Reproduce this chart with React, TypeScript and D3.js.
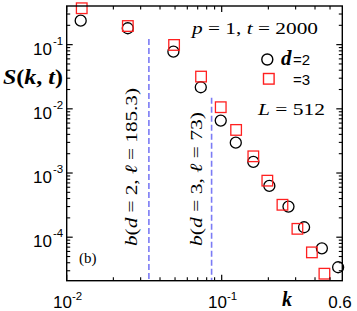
import * as d3 from 'd3';

// Structure factor S(k,t) for d=2 and d=3
const kD2 = [0.01231, 0.02478, 0.0488, 0.0733, 0.0986, 0.1233, 0.16, 0.203, 0.2697, 0.34, 0.443, 0.564];
const sD2 = [0.2366, 0.18, 0.0778, 0.0217, 0.00655, 0.00297, 0.00149, 6.3e-4, 3.0e-4, 1.43e-4, 6.7e-5, 3.4e-5];
const kD3 = [0.0125, 0.0248, 0.0493, 0.0736, 0.0986, 0.1239, 0.16, 0.197, 0.2466, 0.308, 0.382, 0.46];
const sD3 = [0.369, 0.195, 0.0989, 0.0318, 0.0106, 0.00469, 0.00182, 7.6e-4, 3.2e-4, 1.35e-4, 5.8e-5, 2.7e-5];

// vertical markers at k = 2*pi/ell
const ellValues = [185.3, 73];
const ellDims = [2, 3];
const ellTopS = [0.122, 0.0149];

const xTickExps = [-2, -1];
const yTickExps = [-4, -3, -2, -1];

const width = 357;
const height = 311;
const left = 66.7;
const right = 342.3;
const top = 6;
const bottom = 280.7;

const x = d3.scaleLog().domain([0.01, 0.6]).range([left, right]);
const y = d3.scaleLog().domain([2.1e-5, 0.4]).range([bottom, top]);

const blue = '#7b7bf5';
const red = '#ff2020';
const serif = '"Liberation Serif", "DejaVu Serif", serif';
const sans = '"Liberation Sans", Arial, sans-serif';

// minor ticks 2..9 x 10^n inside the domain
function minorTicks(scale: d3.ScaleLogarithmic<number, number>) {
  const [a, b] = scale.domain();
  const out: number[] = [];
  for (let e = -6; e <= 1; e++) {
    for (let m = 2; m <= 9; m++) {
      const v = m * Math.pow(10, e);
      if (v > a * 1.0001 && v < b * 0.9999) out.push(v);
    }
  }
  return out;
}

const App = () => {
  const xMinor = minorTicks(x);
  const yMinor = minorTicks(y);
  const major = 6;
  const minor = 3.5;

  return (
    <div style={{ position: 'fixed', left: 0, top: 0 }}>
      <svg width={width} height={height} style={{ display: 'block', background: '#fff' }}>
        {/* dashed verticals */}
        {ellValues.map((ell, i) => (
          <line
            key={'v' + i}
            x1={x((2 * Math.PI) / ell)}
            x2={x((2 * Math.PI) / ell)}
            y1={y(ellTopS[i])}
            y2={bottom}
            stroke={blue}
            strokeWidth={1.6}
            strokeDasharray="6,3"
          />
        ))}
        {ellValues.map((ell, i) => {
          const tx = i === 0 ? 136.5 : 201.5;
          return (
            <text
              key={'vl' + i}
              transform={`translate(${tx},246) rotate(-90)`}
              fontFamily={serif}
              fontSize={17}
              textLength={i === 0 ? 158 : 134}
              lengthAdjust="spacingAndGlyphs"
            >
              <tspan fontStyle="italic">b</tspan>(<tspan fontStyle="italic">d</tspan> = {ellDims[i]},{' '}
              <tspan fontStyle="italic">ℓ</tspan> = {ell})
            </text>
          );
        })}

        {/* d=2 circles */}
        {kD2.map((k, i) => (
          <circle key={'c' + i} cx={x(k)} cy={y(sD2[i])} r={5.5} fill="none" stroke="#000" strokeWidth={1.3} />
        ))}
        {/* d=3 squares */}
        {kD3.map((k, i) => (
          <rect
            key={'s' + i}
            x={x(k) - 5.3}
            y={y(sD3[i]) - 5.3}
            width={10.6}
            height={10.6}
            fill="none"
            stroke={red}
            strokeWidth={1.3}
          />
        ))}

        {/* frame */}
        <rect x={left} y={top} width={right - left} height={bottom - top} fill="none" stroke="#000" strokeWidth={1.4} />

        {/* x ticks top and bottom */}
        {xTickExps.map((e) => {
          const px = x(Math.pow(10, e));
          return (
            <g key={'xt' + e}>
              <line x1={px} x2={px} y1={bottom} y2={bottom - major} stroke="#000" strokeWidth={1.2} />
              <line x1={px} x2={px} y1={top} y2={top + major} stroke="#000" strokeWidth={1.2} />
              <text x={px + 1} y={308} textAnchor="middle" fontFamily={sans} fontSize={17}>
                10<tspan fontSize={11.5} dy={-8}>{e}</tspan>
              </text>
            </g>
          );
        })}
        {xMinor.map((v, i) => (
          <g key={'xm' + i}>
            <line x1={x(v)} x2={x(v)} y1={bottom} y2={bottom - minor} stroke="#000" strokeWidth={1.1} />
            <line x1={x(v)} x2={x(v)} y1={top} y2={top + minor} stroke="#000" strokeWidth={1.1} />
          </g>
        ))}
        <text x={340} y={308} textAnchor="middle" fontFamily={sans} fontSize={17}>0.6</text>

        {/* y ticks left and right */}
        {yTickExps.map((e) => {
          const py = y(Math.pow(10, e));
          return (
            <g key={'yt' + e}>
              <line x1={left} x2={left + major} y1={py} y2={py} stroke="#000" strokeWidth={1.2} />
              <line x1={right} x2={right - major} y1={py} y2={py} stroke="#000" strokeWidth={1.2} />
              <text x={52} y={py + 10} textAnchor="end" fontFamily={sans} fontSize={17}>10</text>
              <text x={53} y={py} fontFamily={sans} fontSize={11.5}>{e}</text>
            </g>
          );
        })}
        {yMinor.map((v, i) => (
          <g key={'ym' + i}>
            <line x1={left} x2={left + minor} y1={y(v)} y2={y(v)} stroke="#000" strokeWidth={1.1} />
            <line x1={right} x2={right - minor} y1={y(v)} y2={y(v)} stroke="#000" strokeWidth={1.1} />
          </g>
        ))}

        {/* axis titles */}
        <text x={3} y={84} fontFamily={serif} fontSize={20} fontWeight="bold" textLength={60} lengthAdjust="spacingAndGlyphs">
          <tspan fontStyle="italic">S</tspan>(<tspan fontStyle="italic">k</tspan>, <tspan fontStyle="italic">t</tspan>)
        </text>
        <text x={287} y={306} textAnchor="middle" fontFamily={serif} fontSize={20} fontWeight="bold" fontStyle="italic">k</text>

        {/* annotations */}
        <text x={192} y={34} fontFamily={serif} fontSize={17} textLength={126} lengthAdjust="spacingAndGlyphs">
          <tspan fontStyle="italic">p</tspan> = 1, <tspan fontStyle="italic">t</tspan> = 2000
        </text>
        <circle cx={267.3} cy={59.5} r={5.5} fill="none" stroke="#000" strokeWidth={1.4} />
        <text x={281} y={65} fontFamily={serif} fontSize={21} fontWeight="bold" fontStyle="italic">d</text>
        <text x={293} y={65} fontFamily={sans} fontSize={15}>=2</text>
        <rect x={263.5} y={73.5} width={10.6} height={10.6} fill="none" stroke={red} strokeWidth={1.4} />
        <text x={293} y={85} fontFamily={sans} fontSize={15}>=3</text>
        <text x={258} y={115} fontFamily={serif} fontSize={17} textLength={67} lengthAdjust="spacingAndGlyphs">
          <tspan fontStyle="italic">L</tspan> = 512
        </text>
        <text x={79} y={263} fontFamily={serif} fontSize={15}>(b)</text>
      </svg>
    </div>
  );
};

export default App;
